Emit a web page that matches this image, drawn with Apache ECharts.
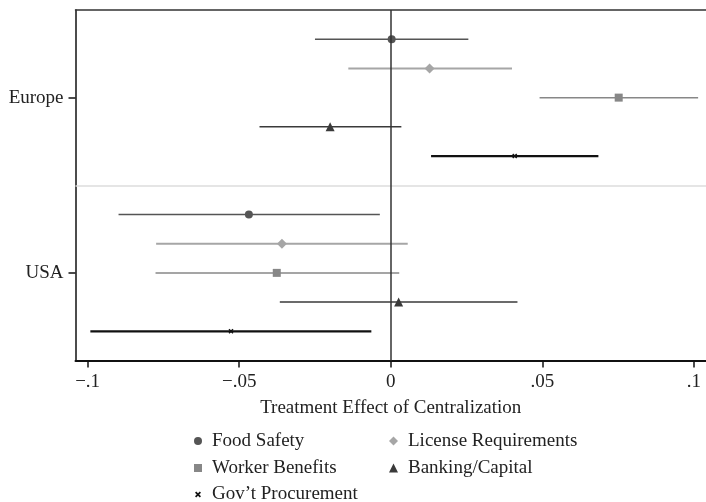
<!DOCTYPE html>
<html>
<head>
<meta charset="utf-8">
<script src="https://cdn.jsdelivr.net/npm/echarts@6/dist/echarts.min.js"></script>
<style>html,body{margin:0;padding:0;background:#fff}#c{width:706px;height:502px}</style>
</head>
<body>
<div id="c"></div>
<script>
const regions = ['Europe', 'USA'];
const seriesNames = ['Food Safety', 'License Requirements', 'Worker Benefits', 'Banking/Capital', 'Gov\u2019t Procurement'];
// estimates per series: [Europe, USA]
const foodSafetyEst = [0.0003, -0.0468];
const foodSafetyLo  = [-0.0250, -0.0898];
const foodSafetyHi  = [0.0256, -0.0036];
const licenseEst = [0.0128, -0.0359];
const licenseLo  = [-0.0140, -0.0774];
const licenseHi  = [0.0400, 0.0056];
const workerEst = [0.0752, -0.0376];
const workerLo  = [0.0491, -0.0776];
const workerHi  = [0.1014, 0.0028];
const bankingEst = [-0.0200, 0.0026];
const bankingLo  = [-0.0433, -0.0366];
const bankingHi  = [0.0035, 0.0418];
const govEst = [0.0409, -0.0527];
const govLo  = [0.0133, -0.0991];
const govHi  = [0.0685, -0.0064];
const xTicks = [-0.1, -0.05, 0, 0.05, 0.1];
const xTickLabels = ['\u2212.1', '\u2212.05', '0', '.05', '.1'];

const est = [foodSafetyEst, licenseEst, workerEst, bankingEst, govEst];
const lo = [foodSafetyLo, licenseLo, workerLo, bankingLo, govLo];
const hi = [foodSafetyHi, licenseHi, workerHi, bankingHi, govHi];

const colors = ['#555555', '#a6a6a6', '#878787', '#3a3a3a', '#111111'];
const lineWidths = [1.5, 2, 1.5, 1.5, 2.2];
const xPath = 'path://M0,2L2,0L5,3L8,0L10,2L7,5L10,8L8,10L5,7L2,10L0,8L3,5Z';
const symbols = ['circle', 'diamond', 'rect', 'triangle', xPath];
const symbolSizes = [8, 10, 8, 9, 5];
const FONT = 'Liberation Serif';
const FS = 19;

function rowOf(r, s) { return r * 6 + s + 1; }

const series = [];
seriesNames.forEach((name, s) => {
  const ciData = regions.map((_, r) => [lo[s][r], hi[s][r], rowOf(r, s)]);
  series.push({
    type: 'custom',
    name: name + ' CI',
    silent: true,
    data: ciData,
    encode: { x: [0, 1], y: 2 },
    renderItem: function (params, api) {
      const a = api.coord([api.value(0), api.value(2)]);
      const b = api.coord([api.value(1), api.value(2)]);
      return {
        type: 'line',
        shape: { x1: a[0], y1: a[1], x2: b[0], y2: b[1] },
        style: { stroke: colors[s], lineWidth: lineWidths[s] }
      };
    },
    z: 2
  });
});
seriesNames.forEach((name, s) => {
  series.push({
    type: 'scatter',
    name: name,
    data: regions.map((_, r) => [est[s][r], rowOf(r, s)]),
    symbol: symbols[s],
    symbolSize: symbolSizes[s],
    itemStyle: { color: colors[s], opacity: 1 },
    z: 4
  });
});
// reference lines
series.push({
  type: 'scatter', data: [], silent: true,
  markLine: {
    silent: true, symbol: 'none', animation: false,
    label: { show: false },
    data: [{ yAxis: 6, lineStyle: { color: '#dddddd', width: 1.5, type: 'solid' } },
           { xAxis: 0, lineStyle: { color: '#333333', width: 1.5, type: 'solid' } }]
  },
  z: 1
});

const legendText = { fontFamily: FONT, fontSize: FS, color: '#222', lineHeight: 19, padding: [0, 0, 0, 5] };
function legendItem(i) { return { name: seriesNames[i], icon: symbols[i], itemStyle: { color: colors[i] } }; }
const option = {
  animation: false,
  backgroundColor: '#fff',
  grid: { left: 75.5, right: 0, top: 10, bottom: 141.5 },
  xAxis: [{
    type: 'value', min: -0.104, max: 0.104,
    axisLine: { show: true, onZero: false, lineStyle: { color: '#111', width: 2 } },
    axisTick: { show: true, length: 7, customValues: xTicks, lineStyle: { color: '#111', width: 1.5 } },
    axisLabel: { customValues: xTicks, fontFamily: FONT, fontSize: FS, color: '#222', margin: 12,
      formatter: v => { const i = xTicks.findIndex(t => Math.abs(t - v) < 1e-9); return i >= 0 ? xTickLabels[i] : ''; } },
    splitLine: { show: false },
    name: 'Treatment Effect of Centralization', nameLocation: 'middle', nameGap: 38,
    nameTextStyle: { fontFamily: FONT, fontSize: FS, color: '#222' }
  }, {
    type: 'value', min: -0.104, max: 0.104, position: 'top',
    axisLine: { show: true, onZero: false, lineStyle: { color: '#333', width: 1.5 } },
    axisTick: { show: false }, axisLabel: { show: false }, splitLine: { show: false }
  }],
  yAxis: {
    type: 'value', min: 0, max: 12, inverse: true,
    axisLine: { show: true, onZero: false, lineStyle: { color: '#111', width: 1.5 } },
    axisTick: { show: true, length: 7, customValues: [3, 9], lineStyle: { color: '#111', width: 1.5 } },
    axisLabel: { customValues: [3, 9], fontFamily: FONT, fontSize: FS, color: '#222', margin: 12,
      formatter: v => regions[Math.round((v - 3) / 6)] },
    splitLine: { show: false }
  },
  legend: [{
    orient: 'vertical', left: 194, top: 431.5, padding: 0, itemWidth: 8, itemHeight: 8, itemGap: 8,
    textStyle: legendText, selectedMode: false,
    data: [0, 2].map(legendItem)
  }, {
    orient: 'vertical', left: 389, top: 431.5, padding: 0, itemWidth: 9, itemHeight: 9, itemGap: 8,
    textStyle: legendText, selectedMode: false,
    data: [1, 3].map(legendItem)
  }, {
    orient: 'vertical', left: 195, top: 485, padding: 0, itemWidth: 6, itemHeight: 6, itemGap: 8,
    textStyle: Object.assign({}, legendText, { padding: [0, 0, 0, 6] }), selectedMode: false,
    data: [4].map(legendItem)
  }],
  series: series
};
const chart = echarts.init(document.getElementById('c'), null, { renderer: 'canvas' });
chart.setOption(option);
</script>
</body>
</html>
